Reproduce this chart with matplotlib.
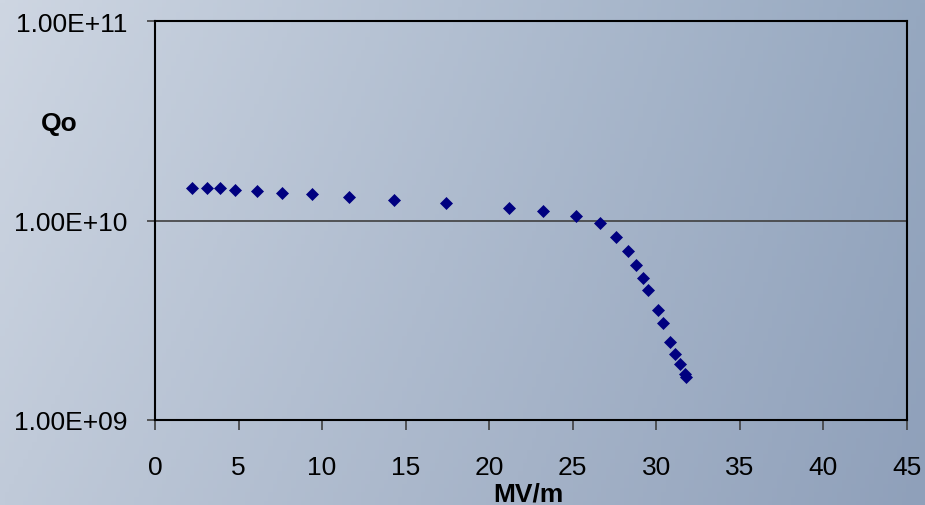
import matplotlib.pyplot as plt
import numpy as np
from matplotlib.ticker import FixedLocator, FuncFormatter

# data
gradient_mv_m = [2.2, 3.1, 3.9, 4.8, 6.1, 7.6, 9.4, 11.6, 14.3, 17.4,
                 21.2, 23.2, 25.2, 26.6, 27.6, 28.3, 28.8, 29.2, 29.5,
                 30.1, 30.4, 30.8, 31.1, 31.4, 31.7, 31.8]
q0 = [1.46e10, 1.46e10, 1.46e10, 1.43e10, 1.40e10, 1.38e10, 1.35e10,
      1.31e10, 1.27e10, 1.22e10, 1.16e10, 1.12e10, 1.05e10, 9.7e9,
      8.25e9, 7.05e9, 5.97e9, 5.14e9, 4.48e9, 3.56e9, 3.05e9, 2.47e9,
      2.15e9, 1.90e9, 1.70e9, 1.64e9]
y_ticks = [1e9, 1e10, 1e11]
x_ticks = [0, 5, 10, 15, 20, 25, 30, 35, 40, 45]

plt.rcParams['font.family'] = ['Liberation Sans', 'DejaVu Sans']

fig = plt.figure(figsize=(9.25, 5.06), dpi=100)

# background gradient (light grey-blue on the left, darker blue on the right)
bg = fig.add_axes([0, 0, 1, 1], zorder=-10)
tl = np.array([206, 214, 226]) / 255
tr = np.array([150, 168, 192]) / 255
bl = np.array([192, 202, 217]) / 255
br = np.array([143, 160, 186]) / 255
u = np.linspace(0, 1, 200)[None, :, None]
v = np.linspace(0, 1, 120)[:, None, None]
img = (1 - v) * ((1 - u) * tl + u * tr) + v * ((1 - u) * bl + u * br)
bg.imshow(img, aspect='auto', extent=[0, 1, 0, 1], origin='upper')
bg.axis('off')

ax = fig.add_axes([155 / 925, 85 / 506, 752 / 925, 399 / 506])
ax.patch.set_alpha(0)

ax.plot(gradient_mv_m, q0, linestyle='none', marker='D', markersize=6.5,
        color='#000080', markeredgewidth=0.5)

ax.set_yscale('log')
ax.set_ylim(1e9, 1e11)
ax.set_xlim(0, 45)
ax.yaxis.set_major_locator(FixedLocator(y_ticks))
ax.yaxis.set_minor_locator(FixedLocator([]))
ax.yaxis.set_major_formatter(FuncFormatter(lambda v, p: '%.2E' % v))
ax.set_xticks(x_ticks)

ax.axhline(1e10, color='#404040', linewidth=1.2, zorder=1)

for s in ax.spines.values():
    s.set_color('black')
    s.set_linewidth(1.5)

ax.tick_params(axis='y', direction='out', length=6, width=1.2,
               color='#404040', labelsize=19, pad=14)
ax.tick_params(axis='x', direction='out', length=7, width=1.2,
               color='#404040', labelsize=19, pad=18)

fig.text(59 / 925, 1 - 124 / 506, 'Qo', fontsize=19, fontweight='bold',
         ha='center', va='center')
fig.text(528 / 925, 1 - 483 / 506, 'MV/m', fontsize=19, fontweight='bold',
         ha='center', va='top')

plt.savefig('out.png', dpi=100)
